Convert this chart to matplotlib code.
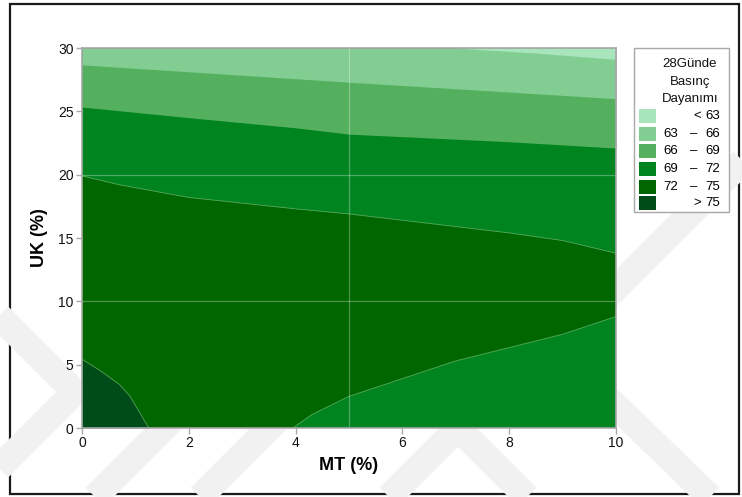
import numpy as np
import matplotlib
matplotlib.use("Agg")
import matplotlib.pyplot as plt
from matplotlib.patches import Rectangle

plt.rcParams['font.family'] = ['Liberation Sans', 'DejaVu Sans']

# Contour levels of 28-day compressive strength and their fill colours
levels = [63, 66, 69, 72, 75]
band_colors = ["#a8e5bd", "#82cd92", "#54b05e", "#008420", "#006600", "#004c18"]

# Contour boundaries: MT (%) positions and UK (%) heights
mt_63 = [6.98, 8.5, 10.0]
uk_63 = [30.0, 29.6, 29.1]
mt_66 = [0.0, 5.0, 10.0]
uk_66 = [28.67, 27.3, 26.0]
mt_69 = [0.0, 2.0, 4.0, 5.0, 6.0, 8.0, 10.0]
uk_69 = [25.34, 24.5, 23.7, 23.2, 23.0, 22.6, 22.1]
mt_72_top = [0.0, 0.7, 2.0, 4.0, 5.0, 6.0, 8.0, 9.0, 10.0]
uk_72_top = [19.9, 19.2, 18.2, 17.3, 16.9, 16.4, 15.4, 14.8, 13.8]
mt_72_low = [3.95, 4.3, 5.0, 6.0, 7.0, 8.0, 9.0, 10.0]
uk_72_low = [0.0, 1.05, 2.5, 3.9, 5.3, 6.35, 7.4, 8.8]
mt_75 = [0.0, 0.35, 0.7, 0.9, 1.25]
uk_75 = [5.43, 4.5, 3.44, 2.5, 0.0]

x_ticks = [0, 2, 4, 6, 8, 10]
y_ticks = [0, 5, 10, 15, 20, 25, 30]
ref_x = [5]
ref_y = [10, 20]

W, H = 742, 497
fig = plt.figure(figsize=(W / 100, H / 100), dpi=100)
fig.patch.set_facecolor("white")

# faint diagonal watermark bands behind the chart (pixel space overlay)
bg = fig.add_axes([0, 0, 1, 1], zorder=0)
bg.set_xlim(0, W)
bg.set_ylim(H, 0)
bg.axis("off")
wm = "#f1f1f1"
bands = [
    [(-150, 167), (75, 392), (-30, 497)],
    [(95, 497), (260, 332)],
    [(200, 497), (330, 367)],
    [(389, 497), (458, 428), (527, 497)],
    [(530, 323), (710, 497)],
    [(560, 344), (762, 142)],
]
for seg in bands:
    xs, ys = zip(*seg)
    bg.plot(xs, ys, color=wm, lw=19, solid_capstyle="butt", solid_joinstyle="miter")
# outer frame
bg.add_patch(Rectangle((10, 4), 729, 490, fill=False, edgecolor="#1a1a1a", lw=1.6))

ax = fig.add_axes([82 / W, (H - 428) / H, 534 / W, 380 / H], zorder=2)
x_lo, x_hi = 0, 10
y_lo, y_hi = 0, 30

# 69 - 72 fills the domain, the other bands are laid over it
ax.fill_between([x_lo, x_hi], y_lo, y_hi, color=band_colors[3], lw=0)
ax.fill_between(mt_69, uk_69, y_hi, color=band_colors[2], lw=0)
ax.fill_between(mt_66, uk_66, y_hi, color=band_colors[1], lw=0)
ax.fill_between(mt_63, uk_63, y_hi, color=band_colors[0], lw=0)
poly_x = list(mt_72_top) + list(mt_72_low[::-1]) + [x_lo]
poly_y = list(uk_72_top) + list(uk_72_low[::-1]) + [y_lo]
ax.fill(poly_x, poly_y, color=band_colors[4], lw=0)
ax.fill_between(mt_75, y_lo, uk_75, color=band_colors[5], lw=0)

line_kw = dict(color="#7cc07c", lw=0.6, alpha=0.7)
ax.plot(mt_72_top, uk_72_top, **line_kw)
ax.plot(mt_72_low, uk_72_low, **line_kw)
ax.plot(mt_75, uk_75, **line_kw)

for v in ref_x:
    ax.axvline(v, color="white", alpha=0.3, lw=0.9)
for v in ref_y:
    ax.axhline(v, color="white", alpha=0.3, lw=0.9)

ax.set_xlim(x_lo, x_hi)
ax.set_ylim(y_lo, y_hi)
ax.set_xticks(x_ticks)
ax.set_yticks(y_ticks)
for s in ax.spines.values():
    s.set_color("#a8a8a8")
    s.set_linewidth(1.2)
ax.tick_params(direction="out", length=4, width=1, color="#a8a8a8",
               labelsize=10, pad=2, labelcolor="#111111")
ax.set_xlabel("MT (%)", fontsize=13, fontweight="bold", labelpad=5)
ax.set_ylabel("UK (%)", fontsize=13, fontweight="bold", labelpad=7)

# legend panel
lg = fig.add_axes([0, 0, 1, 1], zorder=3)
lg.set_xlim(0, W)
lg.set_ylim(H, 0)
lg.axis("off")
lg.add_patch(Rectangle((634, 48), 95, 164, facecolor="white", edgecolor="#a8a8a8", lw=1))
fs = 9.5
for yy, t in zip([64, 82, 99], ["28Günde", "Basınç", "Dayanımı"]):
    lg.text(690, yy, t, ha="center", va="center", fontsize=fs, color="#111111")
row_y = [116, 134, 151, 169, 187, 203]
for i, yy in enumerate(row_y):
    lg.add_patch(Rectangle((639, yy - 7), 17, 14, facecolor=band_colors[i], lw=0))
    if i == 0:
        lg.text(697, yy, "<", ha="center", va="center", fontsize=fs)
        lg.text(720, yy, str(levels[0]), ha="right", va="center", fontsize=fs)
    elif i == len(row_y) - 1:
        lg.text(697, yy, ">", ha="center", va="center", fontsize=fs)
        lg.text(720, yy, str(levels[-1]), ha="right", va="center", fontsize=fs)
    else:
        lg.text(663, yy, str(levels[i - 1]), ha="left", va="center", fontsize=fs)
        lg.text(694, yy, "–", ha="center", va="center", fontsize=fs)
        lg.text(720, yy, str(levels[i]), ha="right", va="center", fontsize=fs)

fig.savefig("out.png", dpi=100)
